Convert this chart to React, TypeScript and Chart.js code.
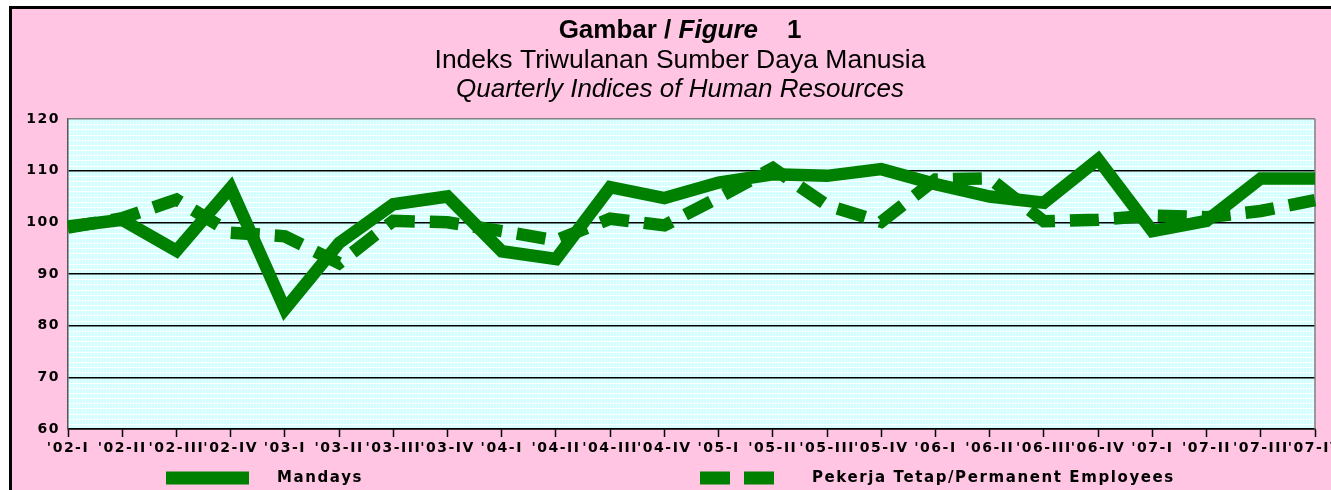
import React, { useEffect, useRef } from "react";
import { Chart, registerables } from "chart.js";

Chart.register(...registerables);

const categories = [
  "'02-I", "'02-II", "'02-III", "'02-IV",
  "'03-I", "'03-II", "'03-III", "'03-IV",
  "'04-I", "'04-II", "'04-III", "'04-IV",
  "'05-I", "'05-II", "'05-III", "'05-IV",
  "'06-I", "'06-II", "'06-III", "'06-IV",
  "'07-I", "'07-II", "'07-III", "'07-IV",
];

const mandays = [
  99.2, 100.5, 94.5, 106.7,
  83.2, 96.0, 103.5, 105.0,
  94.4, 92.9, 106.8, 104.7,
  107.7, 109.3, 109.0, 110.3,
  107.4, 105.0, 103.8, 112.2,
  98.3, 100.3, 108.5, 108.5,
];

const permanentEmployees = [
  99.0, 100.8, 104.4, 98.0,
  97.3, 92.1, 100.3, 100.0,
  98.3, 96.5, 100.7, 99.4,
  104.8, 110.5, 103.3, 100.1,
  108.3, 108.5, 100.2, 100.5,
  101.3, 101.0, 102.2, 104.3,
];

const yMin = 60;
const yMax = 120;
const yStep = 10;

const seriesLabels = ["Mandays", "Pekerja Tetap/Permanent Employees"];

const titleLine1 = [
  { text: "Gambar / ", style: "bold" },
  { text: "Figure", style: "italic bold" },
  { text: "    1", style: "bold" },
];
const titleLine2 = "Indeks Triwulanan Sumber Daya Manusia";
const titleLine3 = "Quarterly Indices of Human Resources";

const GREEN = "#008000";
const TITLE_FONT = "'Liberation Sans', Arial, sans-serif";
const AXIS_FONT = "'DejaVu Sans', sans-serif";

const plotBackground = {
  id: "plotBackground",
  beforeDraw(chart: any) {
    const { ctx, chartArea: a } = chart;
    const ys = chart.scales.y;
    ctx.save();
    ctx.fillStyle = "#D4FFFF";
    ctx.fillRect(a.left, a.top, a.right - a.left, a.bottom - a.top);
    ctx.strokeStyle = "rgba(255,255,255,0.35)";
    ctx.lineWidth = 1;
    for (let x = a.left + 2; x < a.right; x += 3) {
      ctx.beginPath();
      ctx.moveTo(Math.round(x) + 0.5, a.top);
      ctx.lineTo(Math.round(x) + 0.5, a.bottom);
      ctx.stroke();
    }
    ctx.strokeStyle = "rgba(255,255,255,0.95)";
    for (let v = yMin + 1; v < yMax; v++) {
      if (v % yStep === 0) continue;
      const py = Math.round(ys.getPixelForValue(v)) + 0.5;
      ctx.beginPath();
      ctx.moveTo(a.left, py);
      ctx.lineTo(a.right, py);
      ctx.stroke();
    }
    ctx.restore();
    // wider tracking for the axis labels, as in the reference
    (ctx as any).letterSpacing = "1.5px";
  },
  beforeDatasetsDraw(chart: any) {
    const { ctx, chartArea: a } = chart;
    ctx.save();
    ctx.strokeStyle = "#808080";
    ctx.lineWidth = 1.5;
    ctx.beginPath();
    ctx.moveTo(a.right, a.top);
    ctx.lineTo(a.right, a.bottom);
    ctx.stroke();
    ctx.restore();
  },
};

const titlePlugin = {
  id: "figureTitle",
  afterDraw(chart: any) {
    const { ctx } = chart;
    const cx = 668;
    ctx.save();
    (ctx as any).letterSpacing = "0px";
    ctx.fillStyle = "#000";
    ctx.textBaseline = "alphabetic";
    ctx.textAlign = "left";
    let total = 0;
    const widths: number[] = [];
    for (const part of titleLine1) {
      ctx.font = `${part.style} 26px ${TITLE_FONT}`;
      const w = ctx.measureText(part.text).width;
      widths.push(w);
      total += w;
    }
    let x = cx - total / 2;
    titleLine1.forEach((part, i) => {
      ctx.font = `${part.style} 26px ${TITLE_FONT}`;
      ctx.fillText(part.text, x, 29);
      x += widths[i];
    });
    ctx.textAlign = "center";
    ctx.font = `26.5px ${TITLE_FONT}`;
    ctx.fillText(titleLine2, cx, 59);
    ctx.font = `italic 26px ${TITLE_FONT}`;
    ctx.fillText(titleLine3, cx, 88);
    ctx.restore();
  },
};

const legendLayout = [
  { x: 154, w: 83, textX: 265 },
  { x: 688, w: 74, textX: 800 },
];

const legendPlugin = {
  id: "bottomLegend",
  afterDraw(chart: any) {
    const { ctx } = chart;
    const y = 469;
    ctx.save();
    chart.data.datasets.forEach((ds: any, i: number) => {
      const pos = legendLayout[i];
      ctx.strokeStyle = ds.borderColor;
      ctx.lineWidth = 13;
      ctx.lineCap = "butt";
      ctx.setLineDash(i === 1 ? [30, 14] : []);
      ctx.beginPath();
      ctx.moveTo(pos.x, y);
      ctx.lineTo(pos.x + pos.w, y);
      ctx.stroke();
      ctx.setLineDash([]);
      (ctx as any).letterSpacing = "1.6px";
      ctx.fillStyle = "#000";
      ctx.font = `bold 15px ${AXIS_FONT}`;
      ctx.textAlign = "left";
      ctx.textBaseline = "middle";
      ctx.fillText(ds.label, pos.textX, y);
    });
    ctx.restore();
    (ctx as any).letterSpacing = "0px";
  },
};

export default function App() {
  const canvasRef = useRef<HTMLCanvasElement | null>(null);

  useEffect(() => {
    if (!canvasRef.current) return;
    const chart = new Chart(canvasRef.current, {
      type: "line",
      data: {
        labels: categories,
        datasets: [
          {
            label: seriesLabels[0],
            data: mandays,
            borderColor: GREEN,
            backgroundColor: GREEN,
            borderWidth: 12.5,
            pointRadius: 0,
            tension: 0,
            borderJoinStyle: "miter",
            fill: false,
          },
          {
            label: seriesLabels[1],
            data: permanentEmployees,
            borderColor: GREEN,
            backgroundColor: GREEN,
            borderWidth: 12.5,
            borderDash: [29, 15],
            pointRadius: 0,
            tension: 0,
            borderJoinStyle: "miter",
            fill: false,
          },
        ],
      },
      options: {
        animation: false,
        responsive: false,
        maintainAspectRatio: false,
        layout: { padding: { top: 110, right: 16, bottom: 31, left: 0 } },
        plugins: {
          legend: { display: false },
          title: { display: false },
          tooltip: { enabled: false },
        },
        scales: {
          x: {
            type: "category",
            offset: false,
            grid: {
              display: true,
              drawOnChartArea: false,
              drawTicks: true,
              tickLength: 8,
              tickColor: "#000",
              tickWidth: 1.5,
            },
            border: { display: true, color: "#000", width: 1.5 },
            ticks: {
              autoSkip: false,
              maxRotation: 0,
              minRotation: 0,
              padding: 3,
              color: "#000",
              font: { family: AXIS_FONT, weight: "bold", size: 14 },
            },
            afterFit: (s: any) => {
              s.height = 30;
              s.paddingLeft = 0;
              s.paddingRight = 0;
            },
          },
          y: {
            min: yMin,
            max: yMax,
            ticks: {
              stepSize: yStep,
              padding: 8,
              color: "#000",
              font: { family: AXIS_FONT, weight: "bold", size: 14 },
            },
            grid: {
              drawTicks: false,
              color: (c: any) => (c.tick && c.tick.value === yMax ? "#808080" : "#000"),
              lineWidth: 1.5,
            },
            border: { display: true, color: "#555", width: 1.5 },
            afterFit: (s: any) => {
              s.width = 56;
            },
          },
        },
      } as any,
      plugins: [plotBackground, titlePlugin, legendPlugin],
    });
    return () => chart.destroy();
  }, []);

  return (
    <div
      style={{
        position: "absolute",
        left: 0,
        top: 0,
        width: 1331,
        height: 490,
        overflow: "hidden",
        background: "#fff",
      }}
    >
      <div
        style={{
          position: "absolute",
          left: 9,
          top: 6,
          width: 1322,
          height: 484,
          boxSizing: "border-box",
          borderLeft: "3px solid #000",
          borderTop: "3px solid #000",
          background: "#FFC5E2",
        }}
      >
        <canvas
          ref={canvasRef}
          width={1319}
          height={481}
          style={{ display: "block", width: 1319, height: 481 }}
        />
      </div>
    </div>
  );
}
